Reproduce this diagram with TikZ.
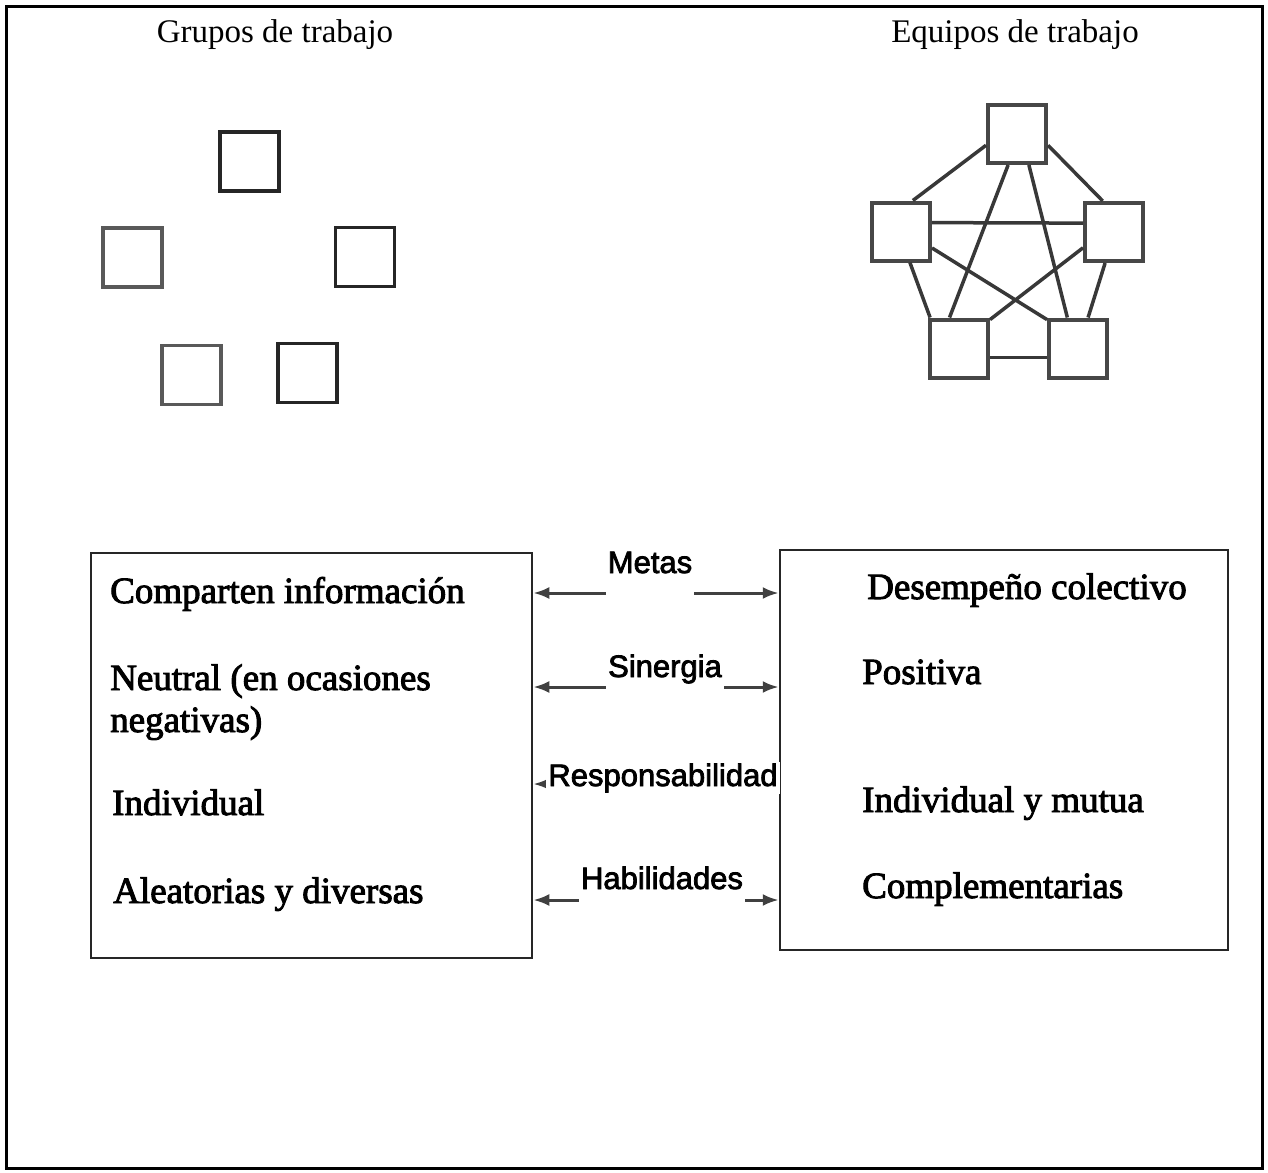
\documentclass[tikz,border=0pt]{standalone}
\usepackage{fontspec}
\setmainfont{Liberation Serif}
\newfontfamily\boxfont{Liberation Serif}[FakeBold=2.5]
\newfontfamily\labelfont{Liberation Sans}[FakeBold=2.5]
\usetikzlibrary{arrows.meta}
\begin{document}
\begin{tikzpicture}[x=1pt,y=-1pt,
  sq/.style={draw=black!85, line width=3.5pt, minimum width=59pt, minimum height=59pt, inner sep=0pt, fill=white},
  psq/.style={draw=black!72, line width=4pt, minimum width=58pt, minimum height=58pt, inner sep=0pt, fill=white},
  link/.style={draw=black!78, line width=3.5pt},
  bigbox/.style={draw=black!85, line width=2.5pt, inner sep=0pt},
  title/.style={font=\fontsize{33}{36}\selectfont, anchor=base, inner sep=0pt},
  item/.style={font=\boxfont\fontsize{37}{40}\selectfont, anchor=base west, inner sep=0pt},
  lbl/.style={font=\labelfont\fontsize{31}{34}\selectfont, anchor=base, fill=white, inner sep=2pt},
  dbl/.style={>={Latex[length=16pt,width=12pt]}, <->, line width=3pt, draw=black!75},
]
\useasboundingbox (0,0) rectangle (1268,1172);
\draw[line width=3pt] (6,7) rectangle (1262,1168);

% titles
\node[title] (tg) at (275,42) {Grupos de trabajo};
\node[title] (te) at (1015,42) {Equipos de trabajo};

% groups: loose squares
\node[sq] (a1) at (249.5,161.5) {};
\node[sq, draw=black!65] (a2) at (132.5,257.5) {};
\node[sq] (a3) at (365,257) {};
\node[sq, draw=black!65] (a4) at (191.5,375) {};
\node[sq] (a5) at (307.5,373) {};

% teams: connected pentagon
\node[psq] (T) at (1017,134) {};
\node[psq] (L) at (901,231.5) {};
\node[psq] (R) at (1114,232) {};
\node[psq] (BL) at (959,348.5) {};
\node[psq] (BR) at (1078,348.5) {};
\draw[link] (T.200) -- (L.69);
\draw[link] (T.340) -- (R.110);
\draw[link] (L.16) -- (R.164);
\draw[link] (T.254) -- (BL.107);
\draw[link] (T.291) -- (BR.109);
\draw[link] (L.332) -- (BR.137);
\draw[link] (R.207) -- (BL.43);
\draw[link] (L.286) -- (BL.133);
\draw[link] (R.254) -- (BR.72);
\draw[link] (BL.344) -- (BR.196);

% comparison boxes
\node[bigbox, minimum width=441pt, minimum height=405pt] (GB) at (311.5,755.5) {};
\node[bigbox, minimum width=448pt, minimum height=400pt] (EB) at (1004,750) {};

% arrows
\coordinate (m1) at (656,593);
\coordinate (m2) at (656,687);
\coordinate (m3) at (656,784);
\coordinate (m4) at (656,900);
\draw[dbl] (GB.east |- m1) -- (EB.west |- m1);
\draw[dbl] (GB.east |- m2) -- (EB.west |- m2);
\draw[dbl] (GB.east |- m3) -- (EB.west |- m3);
\draw[dbl] (GB.east |- m4) -- (EB.west |- m4);
\node[lbl, text depth=25pt] (l1) at (650,573) {Metas};
\node[lbl, text depth=14pt] (l2) at (665,677) {Sinergia};
\node[lbl] (l3) at (663,786) {Responsabilidad};
\node[lbl, text depth=15pt] (l4) at (662,889) {Habilidades};

% left box text
\node[item] (g1) at (110,603) {Comparten información};
\node[item] (g2) at (110,690) {Neutral (en ocasiones};
\node[item] (g3) at (110,732) {negativas)};
\node[item] (g4) at (112,815) {Individual};
\node[item] (g5) at (113,903) {Aleatorias y diversas};

% right box text
\node[item] (e1) at (867,599) {Desempeño colectivo};
\node[item] (e2) at (862,684) {Positiva};
\node[item] (e3) at (862,812) {Individual y mutua};
\node[item] (e4) at (862,898) {Complementarias};
\end{tikzpicture}
\end{document}
